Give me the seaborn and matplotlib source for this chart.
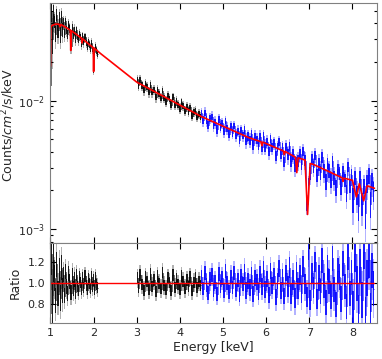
"""Spectrum + ratio panel (black soft band, blue hard band, red model)."""
import numpy as np
import matplotlib
matplotlib.use("Agg")
import matplotlib.pyplot as plt
import seaborn as sns

sns.set_theme(style="ticks", context="paper")
plt.rcParams["font.family"] = ["DejaVu Sans"]

# red model curve, knots (keV, counts/cm2/s/keV)
MODEL_E = [1.000, 1.008, 1.05, 1.12, 1.20, 1.22, 1.24, 1.35, 1.46, 1.47, 1.48,
           1.60, 1.72, 1.73, 1.74, 1.85, 1.99, 2.00, 2.01, 2.16, 3.00, 4.50,
           5.60, 5.88, 5.90, 5.92, 6.40, 6.42, 6.44, 6.68, 6.71, 6.74, 6.90,
           6.96, 7.02, 7.10, 7.76, 7.78, 7.80, 8.00, 8.09, 8.16, 8.26, 8.34, 8.51]
MODEL_F = [0.0185, 0.0375, 0.0385, 0.0393, 0.0392, 0.0375, 0.0390, 0.0372, 0.0352, 0.0245, 0.0350,
           0.0327, 0.0305, 0.0280, 0.0303, 0.0281, 0.0258, 0.0168, 0.0256, 0.0232, 0.0139, 0.0075,
           0.00514, 0.00478, 0.00445, 0.00475, 0.00405, 0.00380, 0.00402, 0.00362, 0.00275, 0.00358, 0.00345,
           0.00130, 0.00324, 0.00318, 0.00251, 0.00235, 0.00249, 0.00240, 0.00178, 0.00226, 0.00166, 0.00217, 0.00208]

# data / model ratio, one value per bin
SOFT_E0, SOFT_STEP = 1.00, 0.025
SOFT_RATIO = [0.72, 1.28, 0.80, 1.22, 1.05, 0.84, 1.18, 0.90, 1.12, 0.86,
              1.15, 0.93, 1.08, 0.88, 1.11, 0.97, 0.90, 1.09, 1.02, 0.91,
              1.07, 0.95, 1.04, 0.92, 1.08, 0.97, 0.93, 1.06, 1.01, 0.94,
              1.05, 0.96, 1.07, 0.98, 0.94, 1.04, 1.00, 0.95, 1.06, 0.97,
              1.03, 0.94, 1.05, 0.99, 0.96]
MID_E0, MID_STEP = 3.00, 0.04
MID_RATIO = [1.05, 0.96, 1.08, 0.99, 0.93, 1.06, 1.02, 0.94, 1.09, 0.97,
             1.03, 0.92, 1.07, 1.00, 0.95, 1.10, 0.98, 0.94, 1.05, 1.01,
             0.93, 1.08, 0.96, 1.04, 0.99, 0.94, 1.07, 1.02, 0.95, 1.03,
             0.97, 1.06, 0.93, 1.01, 1.05, 0.96, 1.02, 0.98]
HARD_E0, HARD_STEP = 4.50, 0.04
HARD_RATIO = [1.06, 0.95, 1.10, 0.98, 0.91, 1.04, 1.08, 0.94, 1.01, 0.90,
              1.09, 0.97, 1.05, 0.93, 1.12, 1.00, 0.92, 1.06, 0.96, 1.10,
              0.94, 1.03, 0.89, 1.07, 0.99, 1.11, 0.93, 1.02, 0.96, 1.08,
              0.90, 1.05, 1.01, 0.92, 1.09, 0.97, 1.13, 0.94, 1.04, 0.89,
              1.12, 0.98, 1.07, 0.87, 1.02, 1.14, 0.93, 1.06, 0.88, 1.10,
              0.97, 1.15, 0.90, 1.03, 0.86, 1.11, 0.95, 1.08, 0.91, 1.16,
              0.99, 0.87, 1.32, 0.84, 1.10, 0.96, 1.20, 0.85, 1.05, 0.92,
              1.22, 0.98, 0.82, 1.15, 1.02, 0.88, 1.24, 0.94, 0.80, 1.12,
              1.06, 0.85, 1.19, 0.97, 0.78, 1.25, 0.90, 1.10, 0.76, 1.28,
              1.00, 0.72, 1.16, 0.84, 1.30, 0.70, 1.05, 1.22, 0.74, 1.12,
              0.95]

# error bar half-width (in ratio units), by starting energy of each range
SOFT_ERR = [(1.0, 0.34), (1.1, 0.20), (1.3, 0.12), (1.6, 0.09)]
MID_ERR = [(3.0, 0.09)]
HARD_ERR = [(4.5, 0.11), (5.5, 0.13), (6.5, 0.16), (7.2, 0.20), (8.0, 0.28)]


def model_at(e):
    return 10 ** np.interp(e, MODEL_E, np.log10(MODEL_F))


def err_for(e, table):
    starts = np.array([t[0] for t in table])
    vals = np.array([t[1] for t in table])
    return vals[np.searchsorted(starts, e + 1e-9, side="right") - 1]


def draw_band(ax1, ax2, e0, step, ratio, errs, color):
    ratio = np.array(ratio)
    e = e0 + step * np.arange(len(ratio))
    err = err_for(e, errs)
    mod = model_at(e)
    # light = full error bars, dark = inner part where the bins pile up
    for scale, alpha in [(1.0, 0.3), (0.6, 0.85)]:
        lo, hi = ratio - scale * err, ratio + scale * err
        ax1.fill_between(e, mod * lo, mod * hi, step="mid", color=color, alpha=alpha, lw=0)
        ax2.fill_between(e, lo, hi, step="mid", color=color, alpha=alpha, lw=0)
    sns.lineplot(x=e, y=mod * ratio, ax=ax1, color=color, lw=0.5, alpha=0.8,
                 drawstyle="steps-mid", estimator=None, sort=False)
    sns.lineplot(x=e, y=ratio, ax=ax2, color=color, lw=0.5, alpha=0.8,
                 drawstyle="steps-mid", estimator=None, sort=False)


fig = plt.figure(figsize=(3.82, 3.59), dpi=100)
ax1 = fig.add_axes([0.131, 0.3231, 0.856, 0.6685])
ax2 = fig.add_axes([0.131, 0.1003, 0.856, 0.2228], sharex=ax1)
ax1.set_yscale("log")

draw_band(ax1, ax2, SOFT_E0, SOFT_STEP, SOFT_RATIO, SOFT_ERR, "black")
draw_band(ax1, ax2, MID_E0, MID_STEP, MID_RATIO, MID_ERR, "black")
draw_band(ax1, ax2, HARD_E0, HARD_STEP, HARD_RATIO, HARD_ERR, "blue")

sns.lineplot(x=MODEL_E, y=MODEL_F, ax=ax1, color="red", lw=1.2, estimator=None, sort=False)
sns.lineplot(x=[1.0, 8.5], y=[1.0, 1.0], ax=ax2, color="red", lw=1.0, estimator=None, sort=False)

ax1.set_xlim(0.99, 8.57)
ax1.set_ylim(7.8e-4, 0.0573)
ax2.set_ylim(0.622, 1.384)
ax2.set_xticks(range(1, 9))
ax2.set_yticks([0.8, 1.0, 1.2])

for ax in (ax1, ax2):
    ax.tick_params(which="both", direction="in", top=True, right=True, color="black",
                   labelsize=8, width=0.8)
    ax.tick_params(which="major", length=4)
    ax.tick_params(which="minor", length=2)
    for s in ax.spines.values():
        s.set_color("#808080")
        s.set_linewidth(0.8)
ax1.tick_params(labelbottom=False)

ax1.set_ylabel("Counts/$cm^2$/s/keV", fontsize=9)
ax1.yaxis.set_label_coords(-0.10, 0.49)
ax2.set_ylabel("Ratio", fontsize=9)
ax2.yaxis.set_label_coords(-0.085, 0.5)
ax2.set_xlabel("Energy [keV]", fontsize=9, labelpad=2)
ax1.set_xlabel("")

fig.savefig("out.png", dpi=100)
